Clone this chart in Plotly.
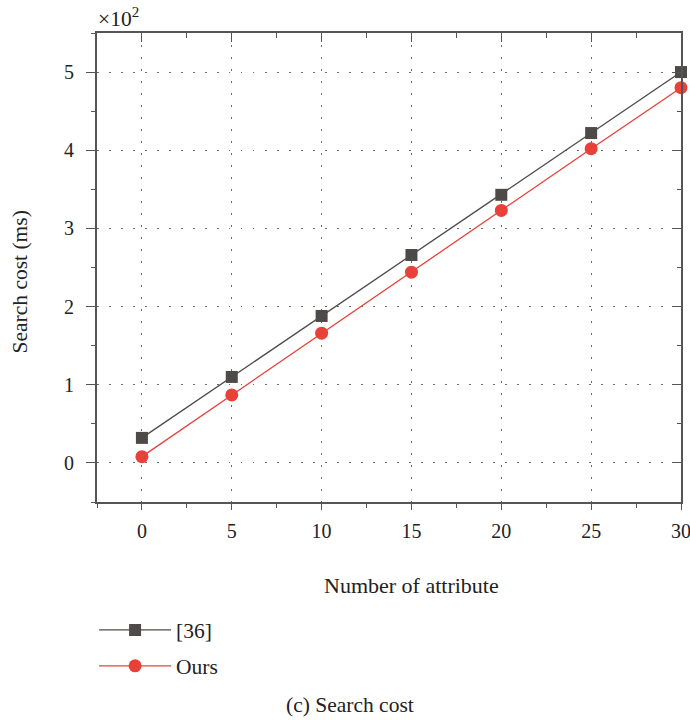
import plotly.graph_objects as go

attributes = [0, 5, 10, 15, 20, 25, 30]
ref36 = [0.32, 1.10, 1.88, 2.66, 3.43, 4.22, 5.00]   # x10^2 ms
ours = [0.08, 0.87, 1.66, 2.44, 3.23, 4.02, 4.80]    # x10^2 ms
series_names = ["[36]", "Ours"]
x_ticks = [0, 5, 10, 15, 20, 25, 30]
y_ticks = [0, 1, 2, 3, 4, 5]

FONT = "Liberation Serif"
AX = "#555555"
GRID = "#6a6a6a"
GRAY = "#4e4a47"
RED = "#e8413a"
TXT = "#222222"
FS = 20      # tick labels
FT = 21.5    # titles / legend / caption

fig = go.Figure()
fig.add_trace(go.Scatter(
    x=attributes, y=ref36, name=series_names[0], mode="lines+markers",
    line=dict(color=GRAY, width=1.3),
    marker=dict(symbol="square", size=12, color=GRAY),
    legendgroup="a", cliponaxis=False,
))
fig.add_trace(go.Scatter(
    x=attributes, y=ours, name=series_names[1], mode="lines+markers",
    line=dict(color=RED, width=1.3),
    marker=dict(symbol="circle", size=13, color=RED),
    legendgroup="b", cliponaxis=False,
))
# invisible trace to register mirrored (top/right) axes
fig.add_trace(go.Scatter(
    x=attributes, y=ours, xaxis="x2", yaxis="y2", mode="lines",
    line=dict(width=0), opacity=0, showlegend=False, hoverinfo="skip",
))

common = dict(showline=True, linewidth=2, linecolor=AX, zeroline=False,
              tickcolor=AX, tickwidth=1.2)

fig.update_layout(
    width=690, height=720,
    margin=dict(l=97, r=9, t=33, b=218, autoexpand=False),
    paper_bgcolor="white", plot_bgcolor="white",
    font=dict(family=FONT, size=FS, color=TXT),
    xaxis=dict(
        range=[-2.5, 30], tickvals=x_ticks, ticks="outside", ticklen=6,
        showgrid=True, gridcolor=GRID, gridwidth=1.2, griddash="1.5px,10.5px",
        minor=dict(dtick=2.5, tick0=0, ticks="outside", ticklen=4, tickcolor=AX, showgrid=False),
        ticklabelstandoff=4, ticklabeloverflow="allow", mirror=True,
        tickfont=dict(family=FONT, size=FS, color=TXT),
        **common,
    ),
    yaxis=dict(
        range=[-0.5, 5.5], tickvals=y_ticks, ticks="outside", ticklen=9,
        showgrid=True, gridcolor=GRID, gridwidth=1.2, griddash="1.5px,10.5px",
        minor=dict(dtick=0.5, tick0=0, ticks="outside", ticklen=4, tickcolor=AX, showgrid=False),
        ticklabelstandoff=8, ticklabeloverflow="allow", mirror=True,
        tickfont=dict(family=FONT, size=FS, color=TXT),
        **common,
    ),
    xaxis2=dict(
        overlaying="x", side="top", anchor="y", range=[-2.5, 30], tickvals=x_ticks,
        ticks="inside", ticklen=9, showticklabels=False, showgrid=False,
        minor=dict(dtick=2.5, tick0=0, ticks="inside", ticklen=5, tickcolor=AX, showgrid=False),
        **common,
    ),
    yaxis2=dict(
        overlaying="y", side="right", anchor="x", range=[-0.5, 5.5], tickvals=y_ticks,
        ticks="inside", ticklen=9, showticklabels=False, showgrid=False,
        minor=dict(dtick=0.5, tick0=0, ticks="inside", ticklen=4, tickcolor=AX, showgrid=False),
        **common,
    ),
    legend=dict(
        x=-0.005, y=-0.229, xanchor="left", yanchor="top",
        traceorder="grouped", tracegroupgap=5, itemwidth=72,
        font=dict(family=FONT, size=FT, color=TXT),
        bgcolor="rgba(0,0,0,0)",
    ),
    showlegend=True,
)

fig.add_annotation(text="×10<sup>2</sup>", xref="paper", yref="paper", x=0, y=1,
                   xanchor="left", yanchor="bottom", yshift=0, xshift=-1, showarrow=False,
                   font=dict(family=FONT, size=FT, color=TXT))
fig.add_annotation(text="Number of attribute", xref="paper", yref="paper", x=0.538, y=-0.177,
                   xanchor="center", yanchor="middle", showarrow=False,
                   font=dict(family=FONT, size=FT + 0.5, color=TXT))
fig.add_annotation(text="Search cost (ms)", xref="paper", yref="paper", x=-0.132, y=0.47,
                   xanchor="center", yanchor="middle", textangle=-90, showarrow=False,
                   font=dict(family=FONT, size=FT, color=TXT))
fig.add_annotation(text="(c) Search cost", xref="paper", yref="paper", x=0.433, y=-0.433,
                   xanchor="center", yanchor="middle", showarrow=False,
                   font=dict(family=FONT, size=FT, color=TXT))

fig.write_html(
    "out.html",
    config={"displayModeBar": False},
    post_script="document.body.style.margin='0';document.body.style.overflow='hidden';",
)
